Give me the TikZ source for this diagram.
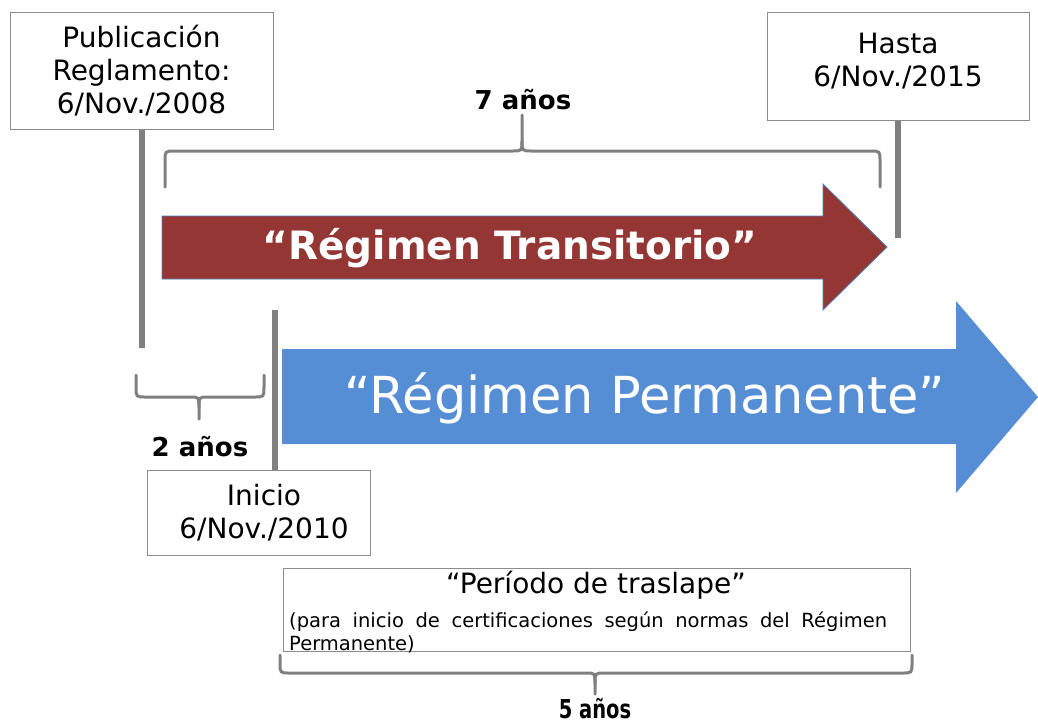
\documentclass[tikz,border=0pt]{standalone}
\usepackage{fontspec}
\setmainfont{DejaVu Sans}
\usetikzlibrary{calc}
\definecolor{redarr}{HTML}{943634}
\definecolor{bluearr}{HTML}{558ED5}
\definecolor{outl}{HTML}{4F81BD}
\definecolor{greyline}{HTML}{808080}
\definecolor{boxline}{HTML}{8C8C8C}
\definecolor{bracecol}{HTML}{7F7F7F}
\begin{document}
\begin{tikzpicture}[x=1pt,y=-1pt,
  datebox/.style={draw=boxline, line width=1pt, fill=white, inner sep=0pt},
  datetext/.style={font=\fontsize{28}{33}\selectfont, align=center, inner sep=0pt},
  bar/.style={draw=greyline, line width=6pt},
  bracepath/.style={draw=bracecol, line width=3pt, line cap=round},
  yearstext/.style={font=\fontsize{26}{30}\selectfont\bfseries, inner sep=0pt},
  arrowshape/.style={draw=outl, line width=0.8pt}
]
\useasboundingbox (0,0) rectangle (1038,724);

% boxes
\node[datebox, datetext, minimum width=263pt, minimum height=117pt] (pub) at (141.5,70.5)
  {Publicación\\Reglamento:\\6/Nov./2008};
\node[datebox, minimum width=262pt, minimum height=108pt] (hasta) at (898,66) {};
\node[datetext] (hastatxt) at (898,61.5) {Hasta\\6/Nov./2015};
\node[datebox, minimum width=223pt, minimum height=85pt] (inicio) at (258.5,512.5) {};
\node[datetext] (iniciotxt) at (264,513) {Inicio\\6/Nov./2010};
\node[datebox, minimum width=627pt, minimum height=83pt] (periodo) at (596.5,609.5) {};
\node[font=\fontsize{28}{33}\selectfont, inner sep=0pt] (ptitle) at (596,585) {“Período de traslape”};
\node[font=\fontsize{19.5}{23}\selectfont, align=left, inner sep=0pt, anchor=west] (psub) at (289,632)
  {\makebox[598pt][s]{(para inicio de certificaciones según normas del Régimen}\\Permanente)};

% vertical bars
\coordinate (b1end) at (141.5,348);
\draw[bar] (pub.south) -- (b1end);
\coordinate (b2end) at (898,238);
\draw[bar] (hasta.south) -- (b2end);
\coordinate (b3top) at (275,310);
\draw[bar] (b3top) -- (b3top |- inicio.north);

% red arrow
\fill[redarr] (162,216) -- (823,216) -- (823,184) -- (887,247) -- (823,310) -- (823,279) -- (162,279) -- cycle;
\draw[arrowshape] (162,216) -- (823,216) -- (823,184) -- (887,247) -- (823,310) -- (823,279) -- (162,279) -- cycle;
\node[font=\fontsize{39}{44}\selectfont\bfseries, text=white, inner sep=0pt] (trans) at (510,248) {“Régimen Transitorio”};

% blue arrow
\fill[bluearr] (282,349) -- (956,349) -- (956,301) -- (1038,397) -- (956,493) -- (956,444) -- (282,444) -- cycle;
\node[font=\fontsize{51}{56}\selectfont, text=white, inner sep=0pt] (perm) at (645,398) {“Régimen Permanente”};

% top brace (7 años)
\draw[bracepath] (165,187) -- (165,161) .. controls (165,151) .. (175,151) -- (512,151)
  .. controls (522,151) .. (522,141) -- (522,115);
\draw[bracepath] (522,141) .. controls (522,151) .. (532,151) -- (870,151)
  .. controls (880,151) .. (880,161) -- (880,187);
\node[yearstext] (siete) at (523,100) {7 años};

% 2 años brace
\draw[bracepath] (136,375) -- (136,387) .. controls (136,397) .. (146,397) -- (190,397)
  .. controls (199,397) .. (199,407) -- (199,419);
\draw[bracepath] (199,407) .. controls (199,397) .. (208,397) -- (254,397)
  .. controls (264,397) .. (264,387) -- (264,375);
\node[yearstext] (dos) at (200,447) {2 años};

% 5 años brace
\draw[bracepath] (280,655) -- (280,663) .. controls (280,673) .. (290,673) -- (586,673)
  .. controls (595,673) .. (595,683) -- (595,694);
\draw[bracepath] (595,683) .. controls (595,673) .. (605,673) -- (902,673)
  .. controls (912,673) .. (912,663) -- (912,655);
\node[yearstext] (cinco) at (595,709) {\scalebox{0.75}[1]{5 años}};
\end{tikzpicture}
\end{document}
